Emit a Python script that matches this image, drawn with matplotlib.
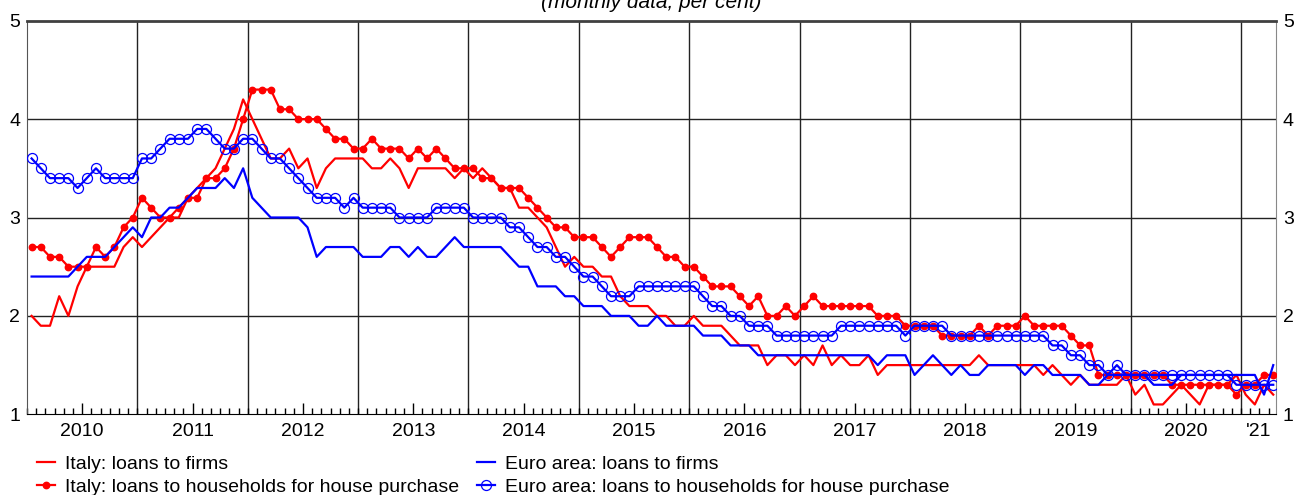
import numpy as np
import matplotlib.pyplot as plt
from matplotlib.ticker import MultipleLocator
from matplotlib.transforms import blended_transform_factory

plt.rcParams['font.family'] = ['Liberation Sans', 'DejaVu Sans']

# Monthly data, Jan 2010 - Apr 2021 (per cent)
year_labels = ['2010', '2011', '2012', '2013', '2014', '2015',
               '2016', '2017', '2018', '2019', '2020', "'21"]

italy_firms = [
    2.0, 1.9, 1.9, 2.2, 2.0, 2.3, 2.5, 2.5, 2.5, 2.5, 2.7, 2.8,
    2.7, 2.8, 2.9, 3.0, 3.0, 3.2, 3.3, 3.4, 3.5, 3.7, 3.9, 4.2,
    4.0, 3.8, 3.6, 3.6, 3.7, 3.5, 3.6, 3.3, 3.5, 3.6, 3.6, 3.6,
    3.6, 3.5, 3.5, 3.6, 3.5, 3.3, 3.5, 3.5, 3.5, 3.5, 3.4, 3.5,
    3.4, 3.5, 3.4, 3.3, 3.3, 3.1, 3.1, 3.0, 2.9, 2.7, 2.5, 2.6,
    2.5, 2.5, 2.4, 2.4, 2.2, 2.1, 2.1, 2.1, 2.0, 2.0, 1.9, 1.9,
    2.0, 1.9, 1.9, 1.9, 1.8, 1.7, 1.7, 1.7, 1.5, 1.6, 1.6, 1.5,
    1.6, 1.5, 1.7, 1.5, 1.6, 1.5, 1.5, 1.6, 1.4, 1.5, 1.5, 1.5,
    1.5, 1.5, 1.5, 1.5, 1.5, 1.5, 1.5, 1.6, 1.5, 1.5, 1.5, 1.5,
    1.5, 1.5, 1.4, 1.5, 1.4, 1.3, 1.4, 1.3, 1.3, 1.3, 1.3, 1.4,
    1.2, 1.3, 1.1, 1.1, 1.2, 1.3, 1.2, 1.1, 1.3, 1.3, 1.3, 1.4,
    1.2, 1.1, 1.3, 1.2,
]

italy_households = [
    2.7, 2.7, 2.6, 2.6, 2.5, 2.5, 2.5, 2.7, 2.6, 2.7, 2.9, 3.0,
    3.2, 3.1, 3.0, 3.0, 3.1, 3.2, 3.2, 3.4, 3.4, 3.5, 3.7, 4.0,
    4.3, 4.3, 4.3, 4.1, 4.1, 4.0, 4.0, 4.0, 3.9, 3.8, 3.8, 3.7,
    3.7, 3.8, 3.7, 3.7, 3.7, 3.6, 3.7, 3.6, 3.7, 3.6, 3.5, 3.5,
    3.5, 3.4, 3.4, 3.3, 3.3, 3.3, 3.2, 3.1, 3.0, 2.9, 2.9, 2.8,
    2.8, 2.8, 2.7, 2.6, 2.7, 2.8, 2.8, 2.8, 2.7, 2.6, 2.6, 2.5,
    2.5, 2.4, 2.3, 2.3, 2.3, 2.2, 2.1, 2.2, 2.0, 2.0, 2.1, 2.0,
    2.1, 2.2, 2.1, 2.1, 2.1, 2.1, 2.1, 2.1, 2.0, 2.0, 2.0, 1.9,
    1.9, 1.9, 1.9, 1.8, 1.8, 1.8, 1.8, 1.9, 1.8, 1.9, 1.9, 1.9,
    2.0, 1.9, 1.9, 1.9, 1.9, 1.8, 1.7, 1.7, 1.4, 1.4, 1.4, 1.4,
    1.4, 1.4, 1.4, 1.4, 1.3, 1.3, 1.3, 1.3, 1.3, 1.3, 1.3, 1.2,
    1.3, 1.3, 1.4, 1.4,
]

euro_firms = [
    2.4, 2.4, 2.4, 2.4, 2.4, 2.5, 2.6, 2.6, 2.6, 2.7, 2.8, 2.9,
    2.8, 3.0, 3.0, 3.1, 3.1, 3.2, 3.3, 3.3, 3.3, 3.4, 3.3, 3.5,
    3.2, 3.1, 3.0, 3.0, 3.0, 3.0, 2.9, 2.6, 2.7, 2.7, 2.7, 2.7,
    2.6, 2.6, 2.6, 2.7, 2.7, 2.6, 2.7, 2.6, 2.6, 2.7, 2.8, 2.7,
    2.7, 2.7, 2.7, 2.7, 2.6, 2.5, 2.5, 2.3, 2.3, 2.3, 2.2, 2.2,
    2.1, 2.1, 2.1, 2.0, 2.0, 2.0, 1.9, 1.9, 2.0, 1.9, 1.9, 1.9,
    1.9, 1.8, 1.8, 1.8, 1.7, 1.7, 1.7, 1.6, 1.6, 1.6, 1.6, 1.6,
    1.6, 1.6, 1.6, 1.6, 1.6, 1.6, 1.6, 1.6, 1.5, 1.6, 1.6, 1.6,
    1.4, 1.5, 1.6, 1.5, 1.4, 1.5, 1.4, 1.4, 1.5, 1.5, 1.5, 1.5,
    1.4, 1.5, 1.5, 1.4, 1.4, 1.4, 1.4, 1.3, 1.3, 1.4, 1.4, 1.4,
    1.4, 1.4, 1.3, 1.3, 1.3, 1.4, 1.4, 1.4, 1.4, 1.4, 1.4, 1.4,
    1.4, 1.4, 1.2, 1.5,
]

euro_households = [
    3.6, 3.5, 3.4, 3.4, 3.4, 3.3, 3.4, 3.5, 3.4, 3.4, 3.4, 3.4,
    3.6, 3.6, 3.7, 3.8, 3.8, 3.8, 3.9, 3.9, 3.8, 3.7, 3.7, 3.8,
    3.8, 3.7, 3.6, 3.6, 3.5, 3.4, 3.3, 3.2, 3.2, 3.2, 3.1, 3.2,
    3.1, 3.1, 3.1, 3.1, 3.0, 3.0, 3.0, 3.0, 3.1, 3.1, 3.1, 3.1,
    3.0, 3.0, 3.0, 3.0, 2.9, 2.9, 2.8, 2.7, 2.7, 2.6, 2.6, 2.5,
    2.4, 2.4, 2.3, 2.2, 2.2, 2.2, 2.3, 2.3, 2.3, 2.3, 2.3, 2.3,
    2.3, 2.2, 2.1, 2.1, 2.0, 2.0, 1.9, 1.9, 1.9, 1.8, 1.8, 1.8,
    1.8, 1.8, 1.8, 1.8, 1.9, 1.9, 1.9, 1.9, 1.9, 1.9, 1.9, 1.8,
    1.9, 1.9, 1.9, 1.9, 1.8, 1.8, 1.8, 1.8, 1.8, 1.8, 1.8, 1.8,
    1.8, 1.8, 1.8, 1.7, 1.7, 1.6, 1.6, 1.5, 1.5, 1.4, 1.5, 1.4,
    1.4, 1.4, 1.4, 1.4, 1.4, 1.4, 1.4, 1.4, 1.4, 1.4, 1.4, 1.3,
    1.3, 1.3, 1.3, 1.3,
]

RED = '#ff0000'
BLUE = '#0000ff'
GRID = '#222222'

W, H = 1295, 495
fig = plt.figure(figsize=(W / 100, H / 100), dpi=100)
ax = fig.add_axes([27 / W, 1 - 414.3 / H, (1276 - 27) / W, (414.3 - 20.7) / H])

# months plotted at the middle of each month slot
x = np.arange(len(italy_firms)) + 0.5
x_max = 135.8

ax.plot(x, italy_firms, color=RED, lw=1.6, zorder=3,
        label='Italy: loans to firms')
ax.plot(x, italy_households, color=RED, lw=1.6, marker='o', ms=4.6, zorder=4,
        label='Italy: loans to households for house purchase')
ax.plot(x, euro_firms, color=BLUE, lw=1.6, zorder=5,
        label='Euro area: loans to firms')
ax.plot(x, euro_households, color=BLUE, lw=1.6, marker='o', ms=7.2, mfc='none',
        mec=BLUE, mew=0.9, zorder=6,
        label='Euro area: loans to households for house purchase')

ax.set_xlim(0, x_max)
ax.set_ylim(1, 5)

# year boundaries and horizontal grid
for b in range(12, int(x_max), 12):
    ax.axvline(b, color=GRID, lw=1, zorder=1)
for v in (2, 3, 4):
    ax.axhline(v, color=GRID, lw=1, zorder=1)

# year labels centred on each year, monthly minor ticks
label_pad = 6.5  # points
mids = [6 + 12 * i for i in range(len(year_labels) - 1)]
ax.set_xticks(mids, year_labels[:-1])
ax.xaxis.set_minor_locator(MultipleLocator(1))
ax.tick_params(axis='x', which='major', direction='in', length=8, width=1,
               labelsize=14, pad=label_pad)
ax.tick_params(axis='x', which='minor', direction='in', length=4, width=1)
trans = blended_transform_factory(ax.transData, ax.transAxes)
last_year = 12 * (len(year_labels) - 1)
axis_h_px = 414.3 - 20.7
ax.text((last_year + x_max) / 2, -(label_pad * 100 / 72) / axis_h_px,
        year_labels[-1], transform=trans, ha='center', va='top', fontsize=14)

ax.set_yticks([1, 2, 3, 4, 5])
ax.tick_params(axis='y', length=0, labelsize=14, labelleft=True,
               labelright=True, pad=5)

ax.spines['top'].set_color('#404040')
ax.spines['top'].set_linewidth(2)
ax.spines['left'].set_color('#555555')
ax.spines['right'].set_color('#888888')
ax.spines['bottom'].set_color('black')

fig.text(651 / W, 1 - 7.5 / H, '(monthly data; per cent)', ha='center',
         va='baseline', style='italic', fontsize=15)

handles, labels = ax.get_legend_handles_labels()
fig.legend(handles, labels, ncol=2, loc='upper left',
           bbox_to_anchor=(37 / W, 1 - 455 / H), frameon=False, fontsize=14,
           handlelength=0.95, handletextpad=0.5, columnspacing=0.9,
           labelspacing=0.3, borderpad=0, borderaxespad=0)

fig.savefig('out.png', dpi=100)
